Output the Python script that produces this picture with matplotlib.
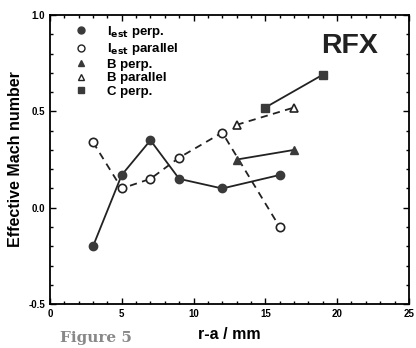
import matplotlib
matplotlib.use("Agg")
import matplotlib.pyplot as plt
from matplotlib.ticker import MultipleLocator
from matplotlib.lines import Line2D

plt.rcParams['font.family'] = ['Liberation Sans', 'DejaVu Sans']
plt.rcParams['font.weight'] = 'bold'

iest_perp_x = [3, 5, 7, 9, 12, 16]
iest_perp_y = [-0.20, 0.17, 0.35, 0.15, 0.10, 0.17]
iest_par_x = [3, 5, 7, 9, 12, 16]
iest_par_y = [0.34, 0.10, 0.15, 0.26, 0.39, -0.10]
b_perp_x = [13, 17]
b_perp_y = [0.25, 0.30]
b_par_x = [13, 17]
b_par_y = [0.43, 0.52]
c_perp_x = [15, 19]
c_perp_y = [0.52, 0.69]

labels = ["I$_{\\mathbf{est}}$ perp.", "I$_{\\mathbf{est}}$ parallel", "B perp.", "B parallel", "C perp."]

dark = '#3a3a3a'
fig = plt.figure(figsize=(4.16, 3.48), dpi=100)
ax = fig.add_axes([0.120, 0.126, 0.863, 0.831])

ax.plot(iest_perp_x, iest_perp_y, '-', color='#222222', lw=1.3, marker='o', ms=6,
        mfc=dark, mec=dark, zorder=3)
ax.plot(iest_par_x, iest_par_y, '--', color='#222222', lw=1.3, dashes=(4, 3), marker='o', ms=6,
        mfc='white', mec='#222222', mew=1.2, zorder=3)
ax.plot(b_perp_x, b_perp_y, '-', color='#222222', lw=1.3, marker='^', ms=6,
        mfc=dark, mec=dark, zorder=3)
ax.plot(b_par_x, b_par_y, '--', color='#222222', lw=1.3, dashes=(4, 3), marker='^', ms=6,
        mfc='white', mec='#222222', mew=1.2, zorder=3)
ax.plot(c_perp_x, c_perp_y, '-', color='#222222', lw=1.3, marker='s', ms=6,
        mfc=dark, mec=dark, zorder=3)

ax.set_xlim(0, 25)
ax.set_ylim(-0.5, 1.0)
ax.xaxis.set_major_locator(MultipleLocator(5))
ax.xaxis.set_minor_locator(MultipleLocator(1))
ax.yaxis.set_major_locator(MultipleLocator(0.5))
ax.yaxis.set_minor_locator(MultipleLocator(0.1))
ax.tick_params(which='both', direction='in', top=True, right=True, width=1.0)
ax.tick_params(which='major', length=4, labelsize=7)
ax.tick_params(which='minor', length=2.5)
ax.set_xticks([0, 5, 10, 15, 20, 25])
ax.set_xticklabels(['0', '5', '10', '15', '20', '25'], fontweight='bold')
ax.set_yticks([-0.5, 0.0, 0.5, 1.0])
ax.set_yticklabels(['-0.5', '0.0', '0.5', '1.0'], fontweight='bold')
for s in ax.spines.values():
    s.set_linewidth(1.3)

ax.set_xlabel('r-a / mm', fontsize=11.5, fontweight='bold', labelpad=6)
ax.set_ylabel('Effective Mach number', fontsize=11.5, fontweight='bold', labelpad=4)

ax.text(20.85, 0.84, 'RFX', fontsize=20.5, fontweight='bold', ha='center', va='center', color='#222222')

handles = [
    Line2D([], [], ls='none', marker='o', ms=5, mfc=dark, mec=dark),
    Line2D([], [], ls='none', marker='o', ms=5, mfc='white', mec='#222222'),
    Line2D([], [], ls='none', marker='^', ms=5, mfc=dark, mec=dark),
    Line2D([], [], ls='none', marker='^', ms=5, mfc='white', mec='#222222'),
    Line2D([], [], ls='none', marker='s', ms=5, mfc=dark, mec=dark),
]
leg = ax.legend(handles, labels, loc='upper left', bbox_to_anchor=(0.034, 1.01), frameon=False,
                handlelength=1.0, handletextpad=1.5, labelspacing=0.1,
                prop={'weight': 'bold', 'size': 9.5})

fig.text(0.145, 0.008, 'Figure 5', fontsize=11, family='DejaVu Serif', color='#888888',
         ha='left', va='bottom')

fig.savefig('out.png', dpi=100)
